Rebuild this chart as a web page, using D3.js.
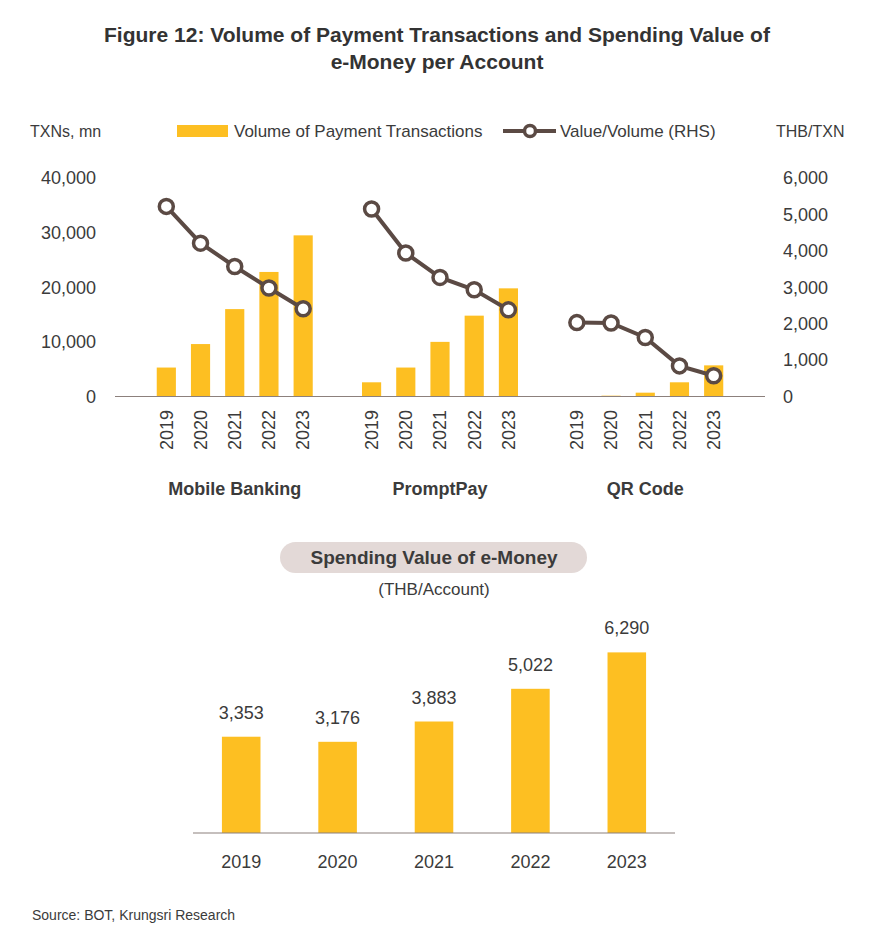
<!DOCTYPE html>
<html>
<head>
<meta charset="utf-8">
<script src="https://cdn.jsdelivr.net/npm/d3@7"></script>
<style>
  body { margin: 0; background: #fff; }
  svg { font-family: "Liberation Sans", Arial, sans-serif; }
  text { fill: #3b3b3b; }
</style>
</head>
<body>
<svg id="chart" width="870" height="947"></svg>
<script>
// top chart data
var groups = ['Mobile Banking', 'PromptPay', 'QR Code'];
var years = ['2019', '2020', '2021', '2022', '2023'];
var volMobile = [5300, 9600, 16000, 22800, 29500];
var volPromptPay = [2600, 5300, 10000, 14800, 19800];
var volQR = [0, 150, 700, 2600, 5700];
var valMobile = [5220, 4210, 3570, 2980, 2410];
var valPromptPay = [5150, 3940, 3270, 2930, 2380];
var valQR = [2030, 2020, 1620, 840, 570];
var leftTicks = [0, 10000, 20000, 30000, 40000];
var rightTicks = [0, 1000, 2000, 3000, 4000, 5000, 6000];

// bottom chart data
var spending = [3353, 3176, 3883, 5022, 6290];

var barColor = '#fdbf22';
var lineColor = '#5b4a44';
var axisColor = '#8c807c';
var fmt = d3.format(',');

var svg = d3.select('#chart');

// title
svg.append('text')
    .attr('x', 437).attr('y', 42)
    .attr('text-anchor', 'middle')
    .attr('font-size', 21).attr('font-weight', 'bold')
    .style('fill', '#333')
    .text('Figure 12: Volume of Payment Transactions and Spending Value of');
svg.append('text')
    .attr('x', 437).attr('y', 69)
    .attr('text-anchor', 'middle')
    .attr('font-size', 21).attr('font-weight', 'bold')
    .style('fill', '#333')
    .text('e-Money per Account');

// ---- top chart ----
var volumes = [volMobile, volPromptPay, volQR];
var values = [valMobile, valPromptPay, valQR];

// one slot per year plus an empty slot around every group
var slots = [];
groups.forEach(function(g, gi) {
    slots.push('gap' + gi);
    years.forEach(function(y) { slots.push(g + '|' + y); });
});
slots.push('gap' + groups.length);

var x = d3.scaleBand().domain(slots).range([115, 765])
    .paddingInner(0.44).paddingOuter(0.22);
var yL = d3.scaleLinear().domain([0, 40000]).range([396.5, 178]);
var yR = d3.scaleLinear().domain([0, 6000]).range([396.5, 178]);

var upper = svg.append('g');

// left axis labels
upper.selectAll('.tickL').data(leftTicks).enter().append('text')
    .attr('x', 96).attr('y', function(d) { return yL(d); })
    .attr('dy', '0.35em').attr('text-anchor', 'end')
    .attr('font-size', 18)
    .text(fmt);

// right axis labels
upper.selectAll('.tickR').data(rightTicks).enter().append('text')
    .attr('x', 783).attr('y', function(d) { return yR(d); })
    .attr('dy', '0.35em').attr('text-anchor', 'start')
    .attr('font-size', 18)
    .text(fmt);

upper.append('text').attr('x', 30).attr('y', 137).attr('font-size', 16).text('TXNs, mn');
upper.append('text').attr('x', 776).attr('y', 137).attr('font-size', 16).text('THB/TXN');

groups.forEach(function(g, gi) {
    var rows = years.map(function(y, i) {
        return { key: g + '|' + y, year: y, vol: volumes[gi][i], val: values[gi][i] };
    });

    upper.selectAll('.bar' + gi).data(rows).enter().append('rect')
        .attr('x', function(d) { return x(d.key); })
        .attr('y', function(d) { return yL(d.vol); })
        .attr('width', x.bandwidth())
        .attr('height', function(d) { return yL(0) - yL(d.vol); })
        .attr('fill', barColor);

    upper.selectAll('.year' + gi).data(rows).enter().append('text')
        .attr('transform', function(d) {
            return 'translate(' + (x(d.key) + x.bandwidth() / 2) + ',410) rotate(-90)';
        })
        .attr('dy', '0.35em').attr('text-anchor', 'end')
        .attr('font-size', 18)
        .text(function(d) { return d.year; });

    var line = d3.line()
        .x(function(d) { return x(d.key) + x.bandwidth() / 2; })
        .y(function(d) { return yR(d.val); });
    upper.append('path').datum(rows)
        .attr('d', line)
        .attr('fill', 'none').attr('stroke', lineColor).attr('stroke-width', 4);

    upper.selectAll('.dot' + gi).data(rows).enter().append('circle')
        .attr('cx', function(d) { return x(d.key) + x.bandwidth() / 2; })
        .attr('cy', function(d) { return yR(d.val); })
        .attr('r', 7)
        .attr('fill', '#fff').attr('stroke', lineColor).attr('stroke-width', 3.5);

    var mid = (x(g + '|' + years[0]) + x(g + '|' + years[years.length - 1]) + x.bandwidth()) / 2;
    upper.append('text')
        .attr('x', mid).attr('y', 495)
        .attr('text-anchor', 'middle')
        .attr('font-size', 18).attr('font-weight', 'bold')
        .text(g);
});

upper.append('line')
    .attr('x1', 115).attr('x2', 765)
    .attr('y1', yL(0)).attr('y2', yL(0))
    .attr('stroke', axisColor).attr('stroke-width', 1.2);

// legend
var legend = svg.append('g');
legend.append('rect').attr('x', 177).attr('y', 125).attr('width', 51).attr('height', 12).attr('fill', barColor);
legend.append('text').attr('x', 234).attr('y', 137).attr('font-size', 17).text('Volume of Payment Transactions');
legend.append('line').attr('x1', 503).attr('x2', 556).attr('y1', 131).attr('y2', 131)
    .attr('stroke', lineColor).attr('stroke-width', 4);
legend.append('circle').attr('cx', 530).attr('cy', 131).attr('r', 5.5)
    .attr('fill', '#fff').attr('stroke', lineColor).attr('stroke-width', 3.5);
legend.append('text').attr('x', 560).attr('y', 137).attr('font-size', 17).text('Value/Volume (RHS)');

// ---- bottom chart ----
var xB = d3.scaleBand().domain(years).range([193, 675]).paddingInner(0.6).paddingOuter(0.3);
var yB = d3.scaleLinear().domain([0, 7000]).range([833, 632]);

var lower = svg.append('g');

lower.append('rect')
    .attr('x', 280).attr('y', 542).attr('width', 307).attr('height', 31)
    .attr('rx', 15.5).attr('fill', '#e3d9d7');
lower.append('text')
    .attr('x', 434).attr('y', 564)
    .attr('text-anchor', 'middle')
    .attr('font-size', 19).attr('font-weight', 'bold')
    .text('Spending Value of e-Money');
lower.append('text')
    .attr('x', 434).attr('y', 595)
    .attr('text-anchor', 'middle')
    .attr('font-size', 17)
    .text('(THB/Account)');

var rowsB = years.map(function(y, i) { return { year: y, val: spending[i] }; });

lower.selectAll('.barB').data(rowsB).enter().append('rect')
    .attr('x', function(d) { return xB(d.year); })
    .attr('y', function(d) { return yB(d.val); })
    .attr('width', xB.bandwidth())
    .attr('height', function(d) { return yB(0) - yB(d.val); })
    .attr('fill', barColor);

lower.selectAll('.valB').data(rowsB).enter().append('text')
    .attr('x', function(d) { return xB(d.year) + xB.bandwidth() / 2; })
    .attr('y', function(d) { return yB(d.val) - 18; })
    .attr('text-anchor', 'middle')
    .attr('font-size', 18)
    .text(function(d) { return fmt(d.val); });

lower.selectAll('.yearB').data(rowsB).enter().append('text')
    .attr('x', function(d) { return xB(d.year) + xB.bandwidth() / 2; })
    .attr('y', 868)
    .attr('text-anchor', 'middle')
    .attr('font-size', 18)
    .text(function(d) { return d.year; });

lower.append('line')
    .attr('x1', 193).attr('x2', 675)
    .attr('y1', yB(0)).attr('y2', yB(0))
    .attr('stroke', axisColor).attr('stroke-width', 1.2);

svg.append('text')
    .attr('x', 32).attr('y', 920)
    .attr('font-size', 14)
    .text('Source: BOT, Krungsri Research');
</script>
</body>
</html>
